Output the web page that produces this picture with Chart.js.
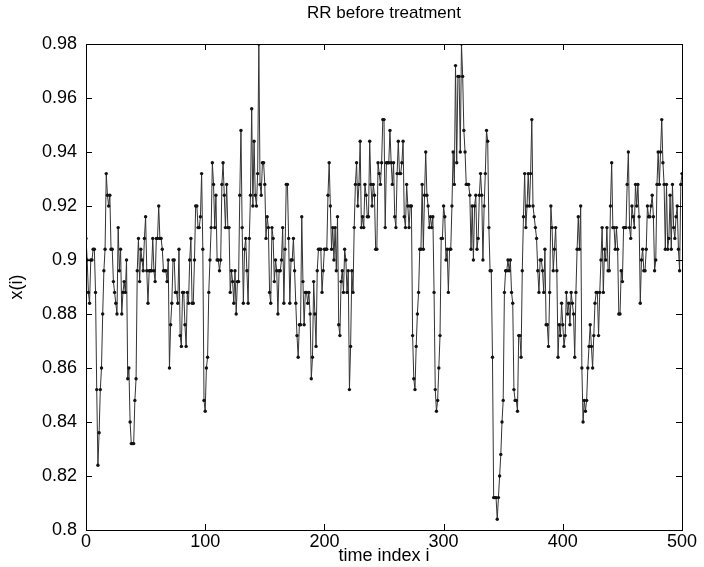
<!DOCTYPE html>
<html>
<head>
<meta charset="utf-8">
<script src="https://cdn.jsdelivr.net/npm/chart.js@4/dist/chart.umd.min.js"></script>
<style>
  html, body { margin: 0; padding: 0; background: #fff; }
  #wrap { width: 704px; height: 567px; }
</style>
</head>
<body>
<div id="wrap"><canvas id="rrChart" width="704" height="567"></canvas></div>
<script>
const chartTitle = 'RR before treatment';
const xLabel = 'time index i';
const yLabel = 'x(i)';
const xTicks = [0, 100, 200, 300, 400, 500];
const yTicks = [0.8, 0.82, 0.84, 0.86, 0.88, 0.9, 0.92, 0.94, 0.96, 0.98];

// RR intervals, index 0..500
const rrValues = [
  // 0-40
  0.908,0.900,0.888,0.884,0.900,0.900,0.904,0.904,0.888,0.852,0.824,0.836,0.852,0.860,0.880,0.896,0.904,0.932,0.924,0.920,
  0.924,0.904,0.904,0.892,0.888,0.884,0.880,0.912,0.896,0.904,0.880,0.888,0.892,0.888,0.900,0.856,0.860,0.840,0.832,0.832,0.832,
  // 41-82
  0.848,0.856,0.896,0.908,0.892,0.904,0.900,0.896,0.908,0.916,0.896,0.884,0.896,0.896,0.896,0.908,0.896,0.892,0.908,0.908,
  0.920,0.908,0.908,0.904,0.896,0.896,0.896,0.892,0.900,0.860,0.876,0.884,0.900,0.900,0.888,0.888,0.884,0.904,0.872,0.868,0.888,0.888,
  // 83-125
  0.876,0.868,0.888,0.884,0.900,0.908,0.884,0.884,0.900,0.920,0.920,0.912,0.912,0.916,0.932,0.904,0.848,0.844,0.860,0.864,
  0.888,0.900,0.912,0.936,0.928,0.912,0.924,0.900,0.900,0.896,0.900,0.928,0.936,0.924,0.912,0.928,0.912,0.912,0.888,0.896,0.892,0.884,0.896,
  // 126-168
  0.880,0.892,0.892,0.924,0.948,0.912,0.884,0.904,0.908,0.896,0.884,0.908,0.924,0.956,0.920,0.944,0.924,0.920,0.932,0.980,
  0.928,0.924,0.936,0.936,0.928,0.908,0.916,0.912,0.888,0.884,0.912,0.908,0.892,0.900,0.896,0.880,0.896,0.896,0.900,0.912,0.884,0.904,0.928,
  // 169-208
  0.928,0.908,0.884,0.900,0.900,0.908,0.896,0.884,0.872,0.864,0.876,0.876,0.916,0.892,0.876,0.888,0.888,0.884,0.888,0.880,
  0.856,0.864,0.892,0.880,0.868,0.896,0.904,0.904,0.904,0.888,0.896,0.904,0.904,0.904,0.924,0.936,0.920,0.904,0.912,0.900,
  // 209-253
  0.912,0.896,0.916,0.876,0.872,0.892,0.896,0.888,0.904,0.900,0.888,0.896,0.852,0.868,0.896,0.888,0.912,0.928,0.936,0.920,
  0.928,0.944,0.912,0.916,0.912,0.928,0.924,0.916,0.916,0.944,0.928,0.920,0.928,0.924,0.904,0.904,0.936,0.932,0.928,0.936,0.952,0.952,0.912,0.936,0.936,
  // 254-294
  0.936,0.948,0.936,0.928,0.936,0.916,0.912,0.932,0.944,0.932,0.932,0.936,0.944,0.916,0.912,0.928,0.920,0.912,0.920,0.920,
  0.872,0.856,0.852,0.868,0.880,0.888,0.904,0.904,0.928,0.904,0.924,0.940,0.924,0.920,0.912,0.916,0.912,0.916,0.888,0.852,0.844,
  // 295-335
  0.848,0.860,0.872,0.908,0.908,0.920,0.916,0.900,0.904,0.888,0.904,0.904,0.920,0.940,0.928,0.972,0.936,0.968,0.968,0.940,
  0.980,0.968,0.948,0.940,0.928,0.928,0.928,0.924,0.904,0.920,0.900,0.920,0.924,0.904,0.908,0.924,0.932,0.924,0.900,0.920,0.932,
  // 336-376
  0.948,0.944,0.912,0.896,0.896,0.864,0.812,0.812,0.812,0.804,0.812,0.820,0.828,0.840,0.848,0.888,0.896,0.896,0.900,0.896,
  0.900,0.888,0.884,0.852,0.848,0.848,0.844,0.872,0.872,0.864,0.896,0.916,0.932,0.912,0.920,0.932,0.920,0.932,0.952,0.920,0.916,
  // 377-419
  0.912,0.908,0.896,0.888,0.900,0.900,0.896,0.888,0.904,0.876,0.876,0.868,0.888,0.920,0.912,0.896,0.904,0.912,0.896,0.864,
  0.876,0.872,0.884,0.876,0.868,0.872,0.888,0.880,0.884,0.876,0.888,0.884,0.880,0.864,0.888,0.904,0.916,0.904,0.920,0.860,0.840,0.848,0.844,
  // 420-462
  0.848,0.860,0.868,0.876,0.868,0.860,0.872,0.884,0.888,0.888,0.872,0.888,0.900,0.912,0.888,0.904,0.900,0.912,0.896,0.896,
  0.920,0.936,0.912,0.912,0.904,0.912,0.904,0.880,0.880,0.896,0.892,0.912,0.912,0.912,0.928,0.940,0.912,0.908,0.920,0.916,0.912,0.928,0.920,
  // 463-500
  0.928,0.916,0.884,0.900,0.904,0.896,0.896,0.904,0.920,0.916,0.916,0.920,0.924,0.916,0.896,0.900,0.928,0.940,0.928,0.940,
  0.952,0.936,0.928,0.904,0.928,0.904,0.908,0.924,0.904,0.928,0.912,0.908,0.916,0.920,0.904,0.896,0.928,0.932
];

const fontFamily = '"Liberation Sans", Arial, Helvetica, sans-serif';
const plotBottom = 530;

// MATLAB-style box with inward ticks on all four sides + title over plot area
const matlabBox = {
  id: 'matlabBox',
  afterDatasetsDraw(chart) {
    const { ctx, chartArea: a, scales } = chart;
    const len = 6;
    ctx.save();
    ctx.strokeStyle = '#000';
    ctx.lineWidth = 1;
    ctx.strokeRect(Math.round(a.left) + 0.5, Math.round(a.top) + 0.5,
                   Math.round(a.right - a.left), Math.round(a.bottom - a.top));
    ctx.beginPath();
    xTicks.forEach(v => {
      const px = Math.round(scales.x.getPixelForValue(v)) + 0.5;
      ctx.moveTo(px, a.bottom); ctx.lineTo(px, a.bottom - len);
      ctx.moveTo(px, a.top); ctx.lineTo(px, a.top + len);
    });
    yTicks.forEach(v => {
      const py = Math.round(scales.y.getPixelForValue(v)) + 0.5;
      ctx.moveTo(a.left, py); ctx.lineTo(a.left + len, py);
      ctx.moveTo(a.right, py); ctx.lineTo(a.right - len, py);
    });
    ctx.stroke();

    ctx.fillStyle = '#000';
    ctx.font = '17px ' + fontFamily;
    ctx.textAlign = 'center';
    ctx.textBaseline = 'middle';
    ctx.fillText(chartTitle, (a.left + a.right) / 2, 13);
    ctx.restore();
  }
};

new Chart(document.getElementById('rrChart'), {
  type: 'line',
  data: {
    datasets: [{
      data: rrValues.map((v, i) => ({ x: i, y: v })),
      borderColor: '#333',
      borderWidth: 1,
      pointRadius: 1.7,
      pointBorderWidth: 0,
      pointBackgroundColor: '#111',
      tension: 0
    }]
  },
  options: {
    responsive: false,
    animation: false,
    devicePixelRatio: 1,
    layout: { padding: { top: 44, right: 22, left: 0, bottom: 0 } },
    plugins: { legend: { display: false }, tooltip: { enabled: false } },
    scales: {
      x: {
        type: 'linear', min: 0, max: 500,
        afterBuildTicks: s => { s.ticks = xTicks.map(v => ({ value: v })); },
        afterFit: s => { s.height = 567 - plotBottom; },
        grid: { display: false, drawTicks: false },
        border: { display: false },
        ticks: { color: '#000', font: { family: fontFamily, size: 18 }, padding: 1, maxRotation: 0 },
        title: { display: true, text: xLabel, color: '#000', font: { family: fontFamily, size: 18 }, padding: { top: 0, bottom: 0 } }
      },
      y: {
        min: 0.8, max: 0.98,
        afterBuildTicks: s => { s.ticks = yTicks.map(v => ({ value: v })); },
        afterFit: s => { s.width = 86; },
        grid: { display: false, drawTicks: false },
        border: { display: false },
        ticks: { color: '#000', font: { family: fontFamily, size: 18 }, padding: 9,
                 callback: v => String(+Number(v).toFixed(2)) },
        title: { display: true, text: yLabel, color: '#000', font: { family: fontFamily, size: 18 }, padding: { top: 6, bottom: 0 } }
      }
    }
  },
  plugins: [matlabBox]
});
</script>
</body>
</html>
